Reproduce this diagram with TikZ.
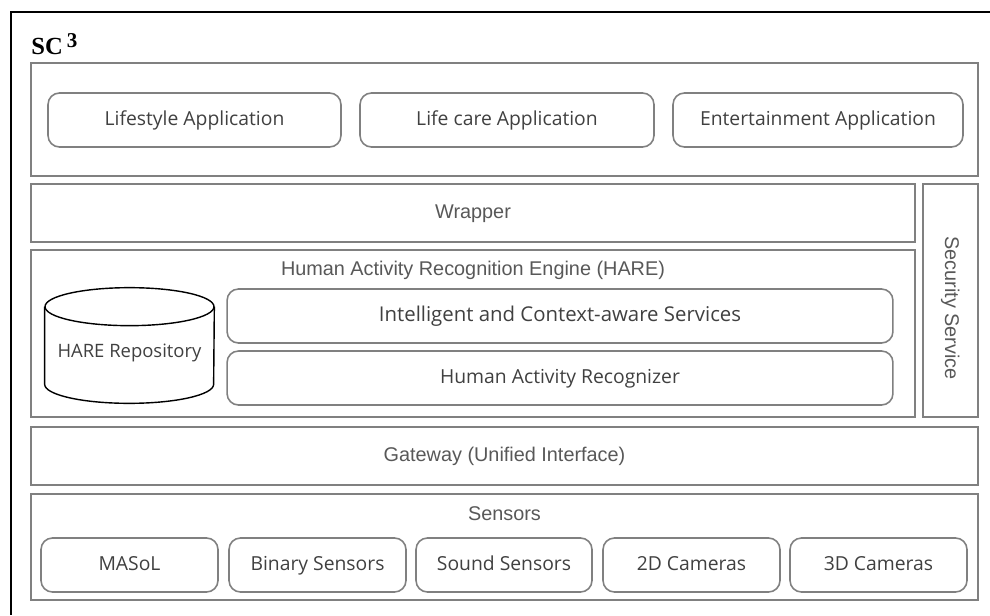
\documentclass[tikz,border=0pt]{standalone}
\usepackage{fontspec}
\setmainfont{Open Sans}
\newfontfamily\thinfont{Liberation Sans}
\newfontfamily\titlefont{Liberation Serif}
\usetikzlibrary{shapes}
\definecolor{box_gray}{RGB}{128, 128, 128}
\definecolor{txt_gray}{RGB}{64, 64, 64}
\definecolor{thin_gray}{RGB}{88, 88, 88}
\tikzstyle{layer}=[rectangle,draw=box_gray,line width=0.9pt,inner sep=0pt,
  text height=1.5ex,text depth=0.35ex,
  font=\thinfont\fontsize{11.3}{13}\selectfont,text=thin_gray]
\tikzstyle{rb}=[rectangle,rounded corners=6.5pt,draw=box_gray,line width=0.9pt,
  inner sep=0pt,minimum height=1.08cm,text height=1.6ex,text depth=0.45ex,
  font=\fontsize{11}{13}\selectfont,text=txt_gray]
\tikzstyle{lbl}=[inner sep=0pt,text height=1.5ex,text depth=0.35ex,
  font=\thinfont\fontsize{11.3}{13}\selectfont,text=thin_gray]

\begin{document}
\begin{tikzpicture}[x=0.02cm,y=-0.02cm]
    \useasboundingbox (0,0) rectangle (990,615);
    % outer frame, only top and left
    \draw [line width=1.7pt] (990,12) -- (11,12) -- (11,615);
    \node [inner sep=0pt,anchor=base west,font=\titlefont\bfseries\fontsize{14}{16}\selectfont]
      (title) at (31,55) {SC\,\raisebox{0.65ex}{\fontsize{12}{14}\selectfont 3}};

    % applications
    \node [style=layer,minimum width=18.94cm,minimum height=2.26cm] (apps) at (504.5,119.5) {};
    \node [style=rb,minimum width=5.86cm] (lifestyle) at (194.5,120) {Lifestyle Application};
    \node [style=rb,minimum width=5.88cm] (lifecare) at (507,120) {Life care Application};
    \node [style=rb,minimum width=5.80cm] (entertain) at (818,120) {Entertainment Application};

    % wrapper and security
    \node [style=layer,minimum width=17.68cm,minimum height=1.16cm] (wrapper) at (473,213) {Wrapper};
    \node [style=layer,minimum width=1.1cm,minimum height=4.66cm] (security) at (950.5,300.5) {};
    \node [style=lbl,rotate=-90] (securitytxt) at (950.5,308) {Security Service};

    % HARE
    \node [style=layer,minimum width=17.68cm,minimum height=3.34cm] (hare) at (473,333.5) {};
    \node [style=lbl] (haretitle) at (473,270) {Human Activity Recognition Engine (HARE)};
    \node [inner sep=0pt,minimum width=3.38cm,minimum height=2.3cm] (repo) at (129.5,345.5) {};
    \draw [line width=0.8pt] ([yshift=-0.38cm]repo.north) ellipse [x radius=1.69cm,y radius=0.38cm];
    \draw [line width=0.8pt] ([yshift=-0.38cm]repo.north west) -- ([yshift=0.38cm]repo.south west)
      arc [start angle=180,end angle=360,x radius=1.69cm,y radius=0.38cm]
      -- ([yshift=-0.38cm]repo.north east);
    \node [inner sep=0pt,font=\fontsize{10.5}{13}\selectfont,text=txt_gray] (repotxt) at (129.5,353) {HARE Repository};
    \node [style=rb,minimum width=13.32cm,font=\fontsize{11.6}{13}\selectfont] (ics) at (560,316) {Intelligent and Context-aware Services};
    \node [style=rb,minimum width=13.32cm] (har) at (560,378) {Human Activity Recognizer};

    % gateway
    \node [style=layer,minimum width=18.94cm,minimum height=1.16cm] (gateway) at (504.5,456) {Gateway (Unified Interface)};

    % sensors
    \node [style=layer,minimum width=18.94cm,minimum height=2.12cm] (sensors) at (504.5,547) {};
    \node [style=lbl] (sensorstitle) at (504.5,515) {Sensors};
    \node [style=rb,minimum width=3.54cm] (masol) at (129.5,565) {MASoL};
    \node [style=rb,minimum width=3.54cm] (binary) at (317.5,565) {Binary Sensors};
    \node [style=rb,minimum width=3.52cm] (sound) at (504,565) {Sound Sensors};
    \node [style=rb,minimum width=3.54cm] (cam2d) at (691.5,565) {2D Cameras};
    \node [style=rb,minimum width=3.54cm] (cam3d) at (878.5,565) {3D Cameras};
  \end{tikzpicture}
\end{document}
